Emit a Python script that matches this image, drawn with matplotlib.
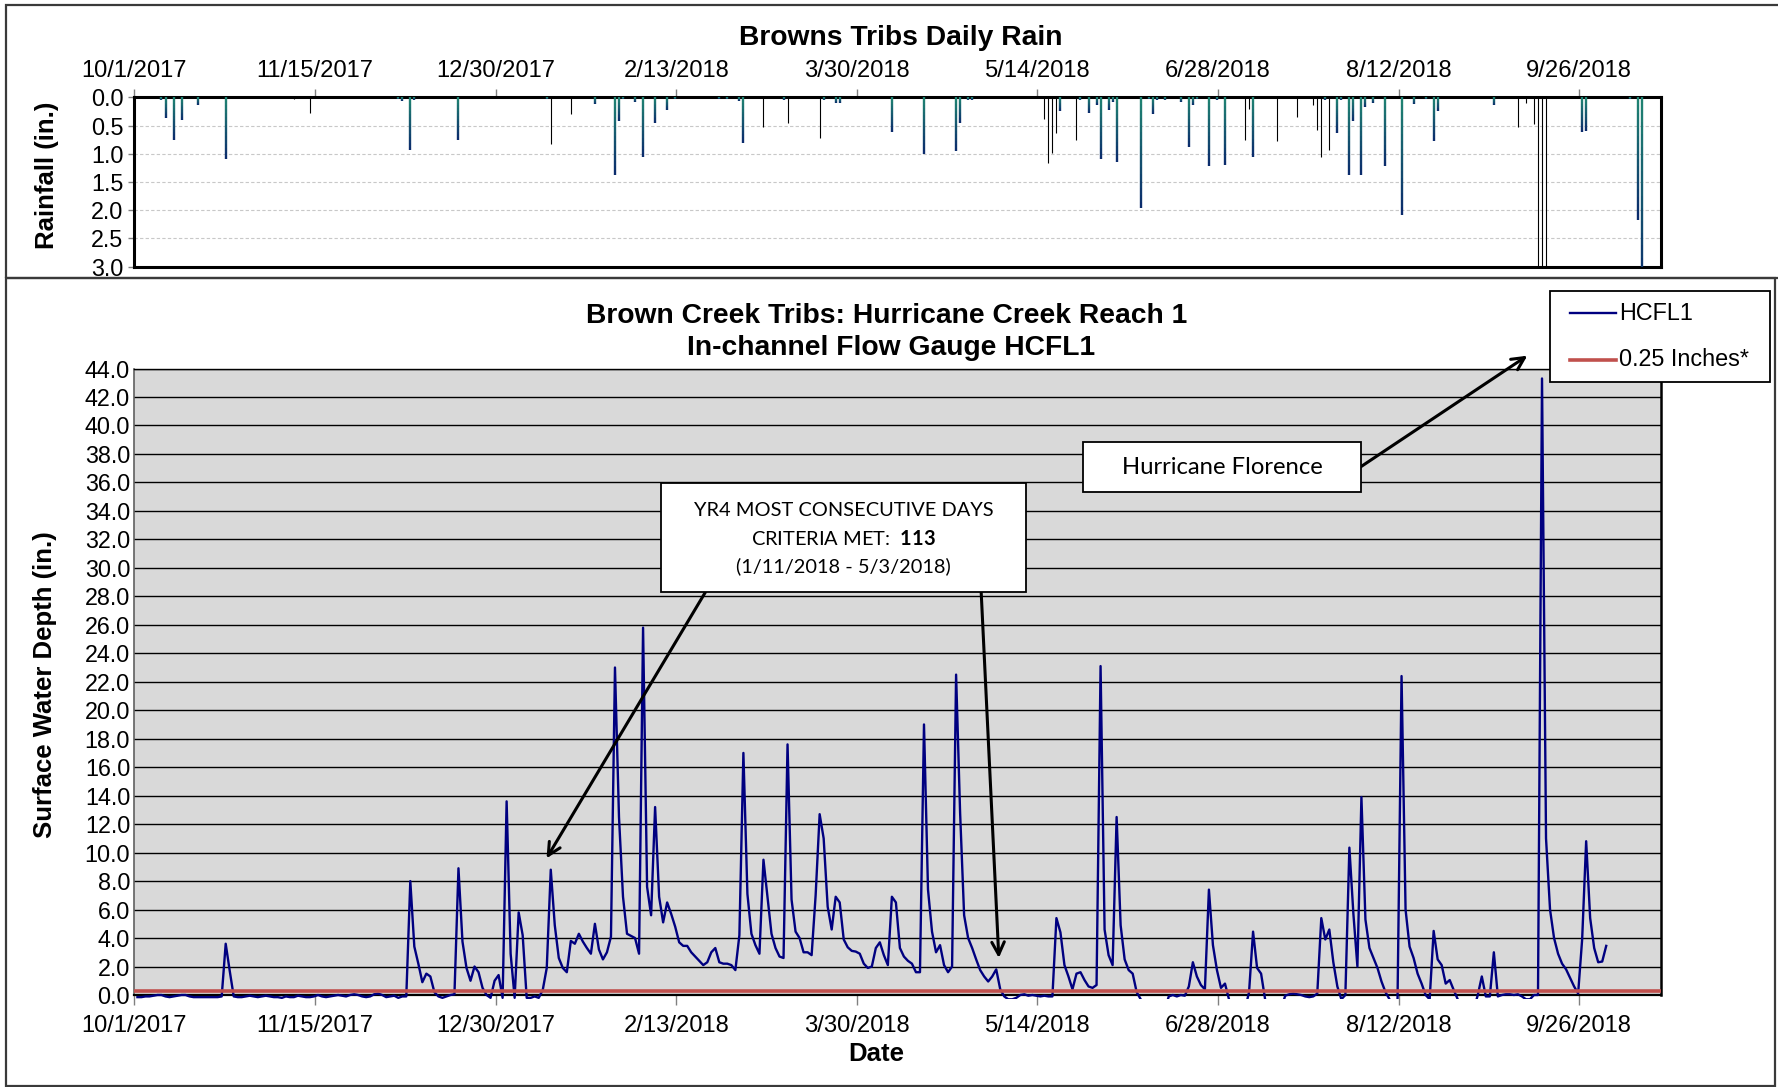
import numpy as np
import matplotlib
matplotlib.use('Agg')
import matplotlib.pyplot as plt
import matplotlib.dates as mdates
import matplotlib.colors as mcolors
from matplotlib.collections import LineCollection
from matplotlib.patches import Rectangle
from matplotlib.lines import Line2D
from matplotlib.ticker import FormatStrFormatter, FuncFormatter

plt.rcParams['font.family'] = ['Liberation Sans', 'DejaVu Sans']
plt.rcParams['mathtext.fontset'] = 'custom'
plt.rcParams['mathtext.bf'] = 'Lato:bold'
plt.rcParams['mathtext.rm'] = 'Lato'

# ---------------- data ----------------
series_start = '2017-10-01T18:00'     # first daily reading

# HCFL1 daily surface water depth (in.), one value per day from series_start
hcfl1 = [
    -0.15, -0.15, -0.1, -0.1, -0.05, 0.0, 0.0, -0.1, -0.15, -0.1,
    -0.05, 0.0, 0.0, -0.1, -0.15, -0.15, -0.15, -0.15, -0.15, -0.15,
    -0.15, -0.1, 3.6, 1.7, -0.1, -0.15, -0.15, -0.1, -0.05, -0.1,
    -0.15, -0.1, -0.05, -0.1, -0.15, -0.15, -0.2, -0.1, -0.15, -0.15,
    -0.05, -0.1, -0.15, -0.15, -0.1, 0.0, -0.1, -0.15, -0.1, -0.05,
    0.0, -0.05, -0.1, 0.0, 0.05, 0.0, -0.1, -0.15, -0.1, 0.05,
    0.1, 0.0, -0.15, -0.1, -0.05, -0.2, -0.1, -0.1, 8.0, 3.4,
    2.2, 0.9, 1.5, 1.3, 0.2, -0.1, -0.2, -0.1, 0.0, 0.05,
    8.9, 3.75, 1.9, 1.0, 2.0, 1.6, 0.5, 0.0, -0.2, 1.0,
    1.4, -0.2, 13.6, 2.9, -0.2, 5.8, 4.2, -0.2, -0.2, -0.1,
    -0.2, 0.35, 1.9, 8.8, 4.9, 2.6, 1.9, 1.6, 3.8, 3.6,
    4.3, 3.75, 3.3, 2.9, 5.0, 3.2, 2.5, 3.0, 4.1, 23.0,
    12.5, 6.9, 4.3, 4.15, 4.0, 2.9, 25.8, 7.6, 5.6, 13.2,
    6.9, 5.1, 6.5, 5.7, 4.8, 3.7, 3.45, 3.45, 3.0, 2.7,
    2.4, 2.1, 2.3, 3.0, 3.3, 2.3, 2.2, 2.2, 2.1, 1.75,
    4.2, 17.0, 7.1, 4.3, 3.5, 2.9, 9.5, 6.9, 4.3, 3.3,
    2.7, 2.6, 17.6, 6.7, 4.45, 4.0, 3.0, 3.0, 2.8, 7.0,
    12.7, 11.0, 6.2, 4.6, 6.9, 6.5, 3.9, 3.35, 3.1, 3.05,
    2.9, 2.2, 1.9, 2.0, 3.3, 3.7, 2.8, 2.1, 6.9, 6.5,
    3.3, 2.7, 2.4, 2.2, 1.6, 1.6, 19.0, 7.4, 4.45, 3.0,
    3.5, 2.1, 1.6, 2.0, 22.5, 12.8, 5.6, 4.0, 3.3, 2.5,
    1.75, 1.3, 0.95, 1.3, 1.8, 0.4, -0.1, -0.3, -0.3, -0.2,
    0.0, 0.05, -0.05, 0.0, -0.05, -0.1, -0.05, -0.1, -0.1, 5.4,
    4.4, 2.1, 1.3, 0.4, 1.5, 1.6, 1.05, 0.6, 0.5, 0.7,
    23.1, 4.6, 2.8, 2.1, 12.5, 4.9, 2.5, 1.75, 1.5, 0.2,
    -0.3, -1.0, -1.0, -1.0, -1.0, -1.0, -1.0, -0.1, 0.0, -0.1,
    0.0, -0.05, 0.6, 2.3, 1.3, 0.7, 0.4, 7.4, 3.5, 1.75,
    0.5, 0.8, -0.3, -1.0, -1.0, -1.0, -1.0, 0.2, 4.45, 1.9,
    1.5, -0.3, -1.0, -1.0, -1.0, -1.0, -0.05, 0.05, 0.1, 0.05,
    0.0, -0.1, -0.15, -0.1, 0.1, 5.4, 3.9, 4.6, 2.3, 0.6,
    -0.3, 0.0, 10.35, 5.7, 2.0, 13.9, 5.3, 3.3, 2.6, 1.9,
    0.95, 0.2, -0.3, -1.0, -0.3, 22.4, 6.0, 3.4, 2.6, 1.5,
    0.8, 0.0, -0.3, 4.5, 2.5, 2.1, 0.8, 1.05, 0.35, -0.3,
    -1.0, -1.0, -1.0, -1.0, 0.0, 1.3, -0.1, -0.1, 3.0, -0.1,
    0.0, 0.05, 0.05, 0.0, 0.05, -0.1, -0.3, -0.3, 0.0, 0.0,
    43.3, 11.0, 6.0, 4.0, 2.9, 2.2, 1.8, 1.2, 0.6, 0.1,
    3.9, 10.8, 5.4, 3.3, 2.3, 2.35, 3.45,
]
threshold = 0.25   # "0.25 Inches*" criterion line
legend_labels = ['HCFL1', '0.25 Inches*']

# daily rain (in.): day offset from series_start and amount
rain_days = [6, 7, 9, 11, 15, 22, 65, 66, 68, 69, 80, 102, 114, 119, 120, 121,
             124, 126, 129, 132, 134, 145, 147, 150, 151, 161, 171, 174, 175,
             188, 196, 204, 205, 207, 208, 230, 235, 237, 239, 240, 242, 243,
             244, 250, 252, 253, 254, 256, 260, 262, 263, 264, 267, 269, 271,
             278, 296, 299, 300, 302, 303, 305, 306, 308, 311, 315, 318, 321,
             323, 324, 338, 360, 361, 372, 374, 375]
rain_in = [0.05, 0.37, 0.75, 0.4, 0.14, 1.1, 0.03, 0.06, 0.93, 0.04, 0.75, 0.03,
           0.12, 1.38, 0.42, 0.03, 0.08, 1.05, 0.45, 0.23, 0.03, 0.02, 0.03,
           0.06, 0.8, 0.04, 0.05, 0.1, 0.1, 0.62, 1.0, 0.95, 0.45, 0.05, 0.04,
           0.24, 0.05, 0.27, 0.13, 1.1, 0.22, 0.08, 1.15, 1.97, 0.03, 0.3,
           0.04, 0.05, 0.08, 0.88, 0.14, 0.03, 1.22, 0.04, 1.2, 1.06, 0.04,
           0.63, 0.04, 1.37, 0.42, 1.37, 0.17, 0.1, 1.22, 2.08, 0.12, 0.03,
           0.77, 0.24, 0.14, 0.62, 0.6, 0.03, 2.17, 3.5]
# rain days drawn only as thin outlines in the original
rain_days_thin = [39, 43, 103, 108, 156, 162, 170, 226, 227, 228, 229, 234,
                  276, 277, 284, 289, 293, 294, 295, 297, 344, 346, 348, 349,
                  350, 351]
rain_in_thin = [0.03, 0.28, 0.82, 0.3, 0.53, 0.45, 0.72, 0.38, 1.16, 0.98,
                0.63, 0.75, 0.75, 0.2, 0.77, 0.35, 0.14, 0.57, 1.05, 0.93,
                0.53, 0.1, 0.47, 4.0, 6.0, 4.0]

axis_start = '2017-10-01'
axis_days = 380.4
tick_step_days = 45
rain_ticks = [0.0, 0.5, 1.0, 1.5, 2.0, 2.5, 3.0]
depth_ticks = list(np.arange(0, 44.1, 2.0))

# ---------------- figure ----------------
W, H = 1778, 1087
fig = plt.figure(figsize=(W / 100, H / 100), dpi=100)


def fx(px):
    return px / W


def fy(py):
    return 1 - py / H


start_num = mdates.date2num(np.datetime64(series_start))
x0 = mdates.date2num(np.datetime64(axis_start))
x1 = x0 + axis_days
ticks = [x0 + tick_step_days * k for k in range(9)]


def date_fmt(v, pos=None):
    d = mdates.num2date(v)
    return f"{d.month}/{d.day}/{d.year}"


FS = 16.8
L, R = 134.4, 1661
NAVY = '#000080'
RED = '#c0504d'

# outer chart borders
fig.patches.append(Rectangle((fx(6), fy(278)), fx(1790 - 6), (278 - 5) / H,
                             transform=fig.transFigure, fill=False,
                             edgecolor='#3a3a3a', lw=1.6))
fig.patches.append(Rectangle((fx(6), fy(1086)), fx(1775 - 6), (1086 - 278) / H,
                             transform=fig.transFigure, fill=False,
                             edgecolor='#3a3a3a', lw=1.6))

# ---------------- rain panel ----------------
ax_r = fig.add_axes([fx(L), fy(266.5), fx(R - L), (266.5 - 97.5) / H])
ax_r.set_xlim(x0, x1)
ax_r.set_ylim(3.0, 0.0)
ax_r.set_yticks(rain_ticks)
ax_r.yaxis.set_major_formatter(FormatStrFormatter('%.1f'))
ax_r.set_xticks(ticks)
ax_r.xaxis.set_major_formatter(FuncFormatter(date_fmt))
ax_r.xaxis.tick_top()
ax_r.grid(axis='y', color='#c8c8c8', linestyle=(0, (3, 2)), linewidth=0.8)
ax_r.set_axisbelow(True)
for s in ax_r.spines.values():
    s.set_linewidth(2.2)
    s.set_color('black')
ax_r.tick_params(axis='x', direction='out', length=6, width=1, color='#808080',
                 pad=5, labelsize=FS + 0.3)
ax_r.tick_params(axis='y', direction='out', length=4, width=1, color='#808080',
                 pad=4, labelsize=FS)

cmap = mcolors.LinearSegmentedColormap.from_list('rain', ['#1f8272', '#0b2c6c'])
nseg = 16
segs, cols = [], []
for d, v in zip(rain_days, rain_in):
    xd = start_num + d
    edges = np.linspace(0, v, nseg + 1)
    for i in range(nseg):
        segs.append([(xd, edges[i]), (xd, edges[i + 1])])
        cols.append(cmap(i / (nseg - 1)))
ax_r.add_collection(LineCollection(segs, colors=cols, linewidths=1.7,
                                   capstyle='butt', zorder=3))
ax_r.vlines(start_num + np.array(rain_days_thin), 0, rain_in_thin,
            color='black', lw=0.8, zorder=3)

fig.text(fx(901), fy(45), 'Browns Tribs Daily Rain', ha='center', va='baseline',
         fontsize=20.3, fontweight='bold')
fig.text(fx(47), fy(175), 'Rainfall (in.)', ha='center', va='center',
         rotation=90, fontsize=18.5, fontweight='bold')

# ---------------- depth panel ----------------
ax = fig.add_axes([fx(L), fy(995), fx(R - L), (995 - 368.5) / H])
ax.set_facecolor('#d9d9d9')
ax.set_xlim(x0, x1)
ax.set_ylim(0, 44)
ax.set_yticks(depth_ticks)
ax.yaxis.set_major_formatter(FormatStrFormatter('%.1f'))
ax.set_xticks(ticks)
ax.xaxis.set_major_formatter(FuncFormatter(date_fmt))
ax.grid(axis='y', color='black', lw=1.0)
ax.set_axisbelow(True)
ax.tick_params(axis='y', length=0, pad=3, labelsize=FS)
ax.tick_params(axis='x', direction='out', length=7, width=1, color='#808080',
               pad=7.5, labelsize=FS + 0.3)
ax.spines['left'].set_color('#606060')
ax.spines['left'].set_linewidth(1.2)
ax.spines['right'].set_linewidth(1.8)
ax.spines['bottom'].set_linewidth(1.6)
ax.spines['top'].set_linewidth(1.0)

flow_x = start_num + np.arange(len(hcfl1))
ln, = ax.plot(flow_x, hcfl1, color=NAVY, lw=1.7, zorder=3)
clip = Rectangle((x0, -0.3), axis_days, 44.5, transform=ax.transData)
ln.set_clip_path(clip)
ax.axhline(threshold, color=RED, lw=2.6, zorder=4)

fig.text(fx(887), fy(323), 'Brown Creek Tribs: Hurricane Creek Reach 1',
         ha='center', va='baseline', fontsize=20.3, fontweight='bold')
fig.text(fx(891), fy(355), 'In-channel Flow Gauge HCFL1',
         ha='center', va='baseline', fontsize=20.3, fontweight='bold')
fig.text(fx(45), fy(685), 'Surface Water Depth (in.)', ha='center',
         va='center', rotation=90, fontsize=18.5, fontweight='bold')
fig.text(fx(876), fy(1061), 'Date', ha='center', va='baseline',
         fontsize=18.5, fontweight='bold')

# legend (drawn as a framed key)
fig.patches.append(Rectangle((fx(1550), fy(382)), fx(1770 - 1550), (382 - 291) / H,
                             transform=fig.transFigure, facecolor='white',
                             edgecolor='black', lw=1.3, zorder=5))
for (yc, col, lw, lab) in [(313, NAVY, 1.7, legend_labels[0]),
                           (359.5, RED, 2.6, legend_labels[1])]:
    fig.lines.append(Line2D([fx(1570), fx(1616)], [fy(yc), fy(yc)],
                            transform=fig.transFigure, color=col, lw=lw,
                            zorder=6))
    fig.text(fx(1619), fy(yc), lab, ha='left', va='center', fontsize=FS,
             zorder=6)

# annotation boxes
fig.patches.append(Rectangle((fx(661), fy(592)), fx(1026 - 661), (592 - 483) / H,
                             transform=fig.transFigure, facecolor='white',
                             edgecolor='black', lw=1.3, zorder=5))
tk = dict(ha='center', va='center', fontsize=14.4, family=['Lato', 'DejaVu Sans'],
          zorder=6)
fig.text(fx(843.5), fy(510.5), 'YR4 MOST CONSECUTIVE DAYS', **tk)
fig.text(fx(843.5), fy(538.5), r'CRITERIA MET:  $\mathbf{113}$', **tk)
fig.text(fx(843.5), fy(566.5), '(1/11/2018 - 5/3/2018)', **tk)

fig.patches.append(Rectangle((fx(1083), fy(492)), fx(1361 - 1083), (492 - 442) / H,
                             transform=fig.transFigure, facecolor='white',
                             edgecolor='black', lw=1.3, zorder=5))
fig.text(fx(1222), fy(467), 'Hurricane Florence', ha='center', va='center',
         fontsize=17.2, family=['Lato', 'DejaVu Sans'], zorder=6)

ap = dict(arrowstyle='->,head_length=0.9,head_width=0.45', lw=2.2,
          color='black', shrinkA=0, shrinkB=0)
ax.annotate('', xy=(x0 + 102.7, 9.6), xytext=(x0 + 142.3, 28.3),
            arrowprops=ap, annotation_clip=False)
ax.annotate('', xy=(x0 + 215.4, 2.6), xytext=(x0 + 211.0, 28.3),
            arrowprops=ap, annotation_clip=False)
ax.annotate('', xy=(x0 + 347.1, 44.9), xytext=(x0 + 305.6, 37.1),
            arrowprops=ap, annotation_clip=False)

fig.savefig('out.png', dpi=100)
